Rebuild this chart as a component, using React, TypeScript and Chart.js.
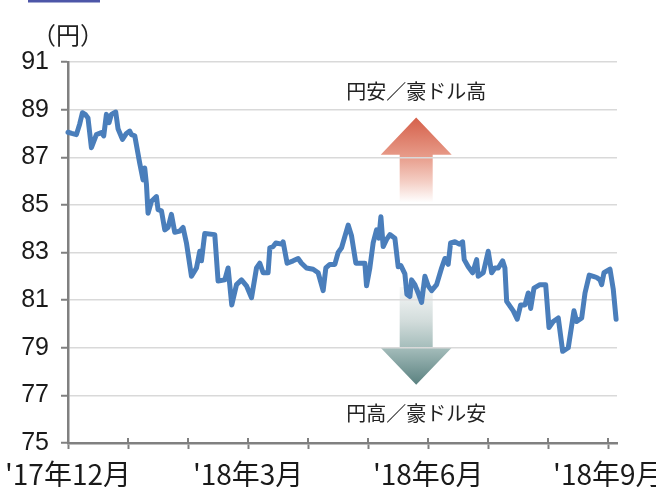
import React, { useEffect, useRef } from "react";
import { Chart, registerables } from "chart.js";

Chart.register(...registerables);

// x position in months after 1 Dec 2017 (0 = '17年12月, 3 = '18年3月, ...)
const monthPos = [
  0, 0.062, 0.14, 0.195, 0.24, 0.287, 0.333, 0.39, 0.473, 0.557, 0.595, 0.64, 0.683, 0.723, 0.795, 0.833,
  0.907, 0.973, 1.028, 1.057, 1.112, 1.195, 1.25, 1.278, 1.307, 1.333, 1.39, 1.473, 1.5, 1.557, 1.612,
  1.667, 1.723, 1.778, 1.862, 1.917, 1.973, 2.057, 2.14, 2.195, 2.223, 2.278, 2.445, 2.5, 2.612, 2.667,
  2.728, 2.807, 2.89, 2.973, 3.057, 3.14, 3.195, 3.25, 3.333, 3.362, 3.417, 3.462, 3.557, 3.583, 3.65,
  3.75, 3.833, 3.89, 3.973, 4.083, 4.167, 4.25, 4.295, 4.362, 4.445, 4.5, 4.557, 4.667, 4.723, 4.795,
  4.862, 4.945, 4.973, 5.028, 5.083, 5.14, 5.178, 5.212, 5.25, 5.307, 5.362, 5.445, 5.5, 5.545, 5.612,
  5.645, 5.695, 5.723, 5.778, 5.833, 5.89, 5.945, 6.0, 6.057, 6.14, 6.223, 6.278, 6.333, 6.373, 6.445,
  6.517, 6.573, 6.6, 6.667, 6.74, 6.807, 6.833, 6.917, 7.0, 7.057, 7.112, 7.167, 7.24, 7.278, 7.307,
  7.417, 7.483, 7.54, 7.612, 7.667, 7.707, 7.762, 7.862, 7.957, 8.012, 8.083, 8.167, 8.24, 8.333, 8.428,
  8.473, 8.557, 8.612, 8.683, 8.75, 8.807, 8.862, 8.89, 8.928, 9.028, 9.083, 9.13,
];

// 円/豪ドル rate
const rate = [
  88.05, 88.0, 87.95, 88.4, 88.87, 88.8, 88.65, 87.4, 87.95, 88.04, 87.9, 88.8, 88.45, 88.8, 88.9, 88.2,
  87.75, 88.0, 88.1, 87.95, 87.9, 86.75, 86.05, 86.55, 85.85, 84.65, 85.15, 85.35, 84.8, 84.75, 83.95,
  84.05, 84.6, 83.85, 83.9, 84.05, 83.4, 82.0, 82.35, 83.05, 82.65, 83.8, 83.75, 81.8, 81.85, 82.35,
  80.8, 81.65, 81.85, 81.6, 81.1, 82.35, 82.55, 82.15, 82.15, 83.2, 83.25, 83.4, 83.35, 83.45, 82.55,
  82.65, 82.75, 82.55, 82.35, 82.3, 82.15, 81.4, 82.35, 82.5, 82.5, 83.0, 83.2, 84.15, 83.7, 82.55,
  82.55, 82.55, 81.6, 82.35, 83.4, 83.95, 83.6, 84.5, 83.25, 83.55, 83.75, 83.6, 82.4, 82.45, 82.1,
  81.25, 81.15, 81.85, 81.65, 81.3, 80.9, 82.0, 81.6, 81.4, 81.65, 82.35, 82.75, 82.5, 83.4, 83.45,
  83.35, 83.45, 82.7, 82.4, 82.15, 82.7, 82.0, 82.15, 83.05, 82.15, 82.35, 82.35, 82.65, 82.35, 80.95,
  80.55, 80.2, 80.8, 80.8, 81.3, 80.65, 81.5, 81.65, 81.65, 79.85, 80.1, 80.25, 78.85, 79.0, 80.55,
  80.1, 80.25, 81.3, 82.05, 82.0, 81.95, 81.85, 81.65, 82.15, 82.3, 81.45, 80.2,
];

const yMin = 75;
const yMax = 91;
const yStep = 2;
const xMin = 0;
const xMax = 9.145;
const xTickMonths = [0, 1, 2, 3, 4, 5, 6, 7, 8, 9];
const xTickLabels = ["'17年12月", "", "", "'18年3月", "", "", "'18年6月", "", "", "'18年9月"];
const unitLabel = "（円）";
const upText = "円安／豪ドル高";
const downText = "円高／豪ドル安";

// annotation placement in data units
const arrowX = 5.8;
const upArrow = { apex: 88.67, headBase: 87.1, tail: 85.1 };
const downArrow = { tail: 81.55, headBase: 79.0, apex: 77.45 };
const upTextY = 89.75;
const downTextY = 76.25;

const JP = '"Noto Sans CJK JP", "Noto Sans", sans-serif';

const decor = {
  id: "decor",
  beforeDraw(chart: any) {
    const { ctx, scales } = chart;
    const x = scales.x;
    const y = scales.y;
    const cx = x.getPixelForValue(arrowX);
    const shaftHalf = 16.5;
    const headHalf = 35.5;
    ctx.save();
    // up arrow
    {
      const a = y.getPixelForValue(upArrow.apex);
      const b = y.getPixelForValue(upArrow.headBase);
      const t = y.getPixelForValue(upArrow.tail);
      const g = ctx.createLinearGradient(0, a, 0, t);
      g.addColorStop(0, "#d5604a");
      g.addColorStop(0.45, "#e79a88");
      g.addColorStop(0.75, "#f4cdc3");
      g.addColorStop(1, "#ffffff");
      ctx.fillStyle = g;
      ctx.beginPath();
      ctx.moveTo(cx, a);
      ctx.lineTo(cx + headHalf, b);
      ctx.lineTo(cx + shaftHalf, b);
      ctx.lineTo(cx + shaftHalf, t);
      ctx.lineTo(cx - shaftHalf, t);
      ctx.lineTo(cx - shaftHalf, b);
      ctx.lineTo(cx - headHalf, b);
      ctx.closePath();
      ctx.fill();
    }
    // down arrow
    {
      const a = y.getPixelForValue(downArrow.apex);
      const b = y.getPixelForValue(downArrow.headBase);
      const t = y.getPixelForValue(downArrow.tail);
      const g = ctx.createLinearGradient(0, t, 0, a);
      g.addColorStop(0, "#f6f8f8");
      g.addColorStop(0.35, "#d2dcdb");
      g.addColorStop(0.62, "#a5bdbb");
      g.addColorStop(1, "#5a8180");
      ctx.fillStyle = g;
      ctx.beginPath();
      ctx.moveTo(cx, a);
      ctx.lineTo(cx + headHalf, b);
      ctx.lineTo(cx + shaftHalf, b);
      ctx.lineTo(cx + shaftHalf, t);
      ctx.lineTo(cx - shaftHalf, t);
      ctx.lineTo(cx - shaftHalf, b);
      ctx.lineTo(cx - headHalf, b);
      ctx.closePath();
      ctx.fill();
    }
    ctx.restore();
  },
  afterDraw(chart: any) {
    const { ctx, scales, chartArea } = chart;
    const x = scales.x;
    const y = scales.y;
    ctx.save();
    // tick marks above x axis
    ctx.strokeStyle = "#808080";
    ctx.lineWidth = 2;
    xTickMonths.forEach((m) => {
      const px = Math.round(x.getPixelForValue(m));
      ctx.beginPath();
      ctx.moveTo(px, chartArea.bottom - 5);
      ctx.lineTo(px, chartArea.bottom);
      ctx.stroke();
    });
    // texts
    ctx.fillStyle = "#222222";
    ctx.textAlign = "center";
    ctx.textBaseline = "middle";
    ctx.font = `20px ${JP}`;
    const cx = x.getPixelForValue(arrowX);
    ctx.fillText(upText, cx, y.getPixelForValue(upTextY));
    ctx.fillText(downText, cx, y.getPixelForValue(downTextY));
    ctx.font = `24px ${JP}`;
    ctx.fillText(unitLabel, chartArea.left, chartArea.top - 27);
    // header strip remnant at top
    ctx.fillStyle = "#4d56a8";
    ctx.fillRect(28, 0, 72, 2.5);
    ctx.restore();
  },
};

export default function App() {
  const ref = useRef<HTMLCanvasElement>(null);
  useEffect(() => {
    if (!ref.current) return;
    const chart = new Chart(ref.current, {
      type: "line",
      data: {
        datasets: [
          {
            data: monthPos.map((m, i) => ({ x: m, y: rate[i] })),
            borderColor: "#4a7ebb",
            borderWidth: 5,
            pointRadius: 0,
            tension: 0,
            borderJoinStyle: "round",
            borderCapStyle: "round",
            fill: false,
            clip: false as any,
          },
        ],
      },
      options: {
        responsive: false,
        animation: false,
        layout: { padding: { top: 62, right: 39, left: 0, bottom: 0 } },
        plugins: { legend: { display: false }, tooltip: { enabled: false } },
        scales: {
          x: {
            type: "linear",
            min: xMin,
            max: xMax,
            afterBuildTicks: (s: any) => {
              s.ticks = xTickMonths.map((v) => ({ value: v }));
            },
            afterFit: (s: any) => {
              s.height = 44;
              s.paddingLeft = 0;
              s.paddingRight = 0;
            },
            grid: { drawOnChartArea: false, drawTicks: true, tickLength: 6, tickColor: "#808080", tickWidth: 2 },
            border: { color: "#808080", width: 2.5 },
            ticks: {
              autoSkip: false,
              maxRotation: 0,
              padding: 9,
              color: "#1a1a1a",
              font: { family: '"Liberation Sans Narrow", "Noto Sans CJK JP", sans-serif', size: 28 },
              callback: (v: any) => {
                const i = xTickMonths.indexOf(Number(v));
                return i >= 0 ? xTickLabels[i] : "";
              },
            },
          },
          y: {
            min: yMin,
            max: yMax,
            afterFit: (s: any) => {
              s.width = 68;
              s.paddingTop = 0;
              s.paddingBottom = 0;
            },
            grid: { color: "#d9d9d9", lineWidth: 1.5, tickLength: 7, tickColor: "#808080", tickWidth: 2 },
            border: { color: "#808080", width: 2.5 },
            ticks: {
              stepSize: yStep,
              padding: 12,
              color: "#1a1a1a",
              font: { family: '"Liberation Sans", Arial, sans-serif', size: 25 },
            },
          },
        },
      },
      plugins: [decor],
    });
    return () => chart.destroy();
  }, []);
  return (
    <div style={{ position: "absolute", left: 0, top: 0, width: 656, height: 487, background: "#fff" }}>
      <canvas ref={ref} width={656} height={487} style={{ display: "block" }} />
    </div>
  );
}
